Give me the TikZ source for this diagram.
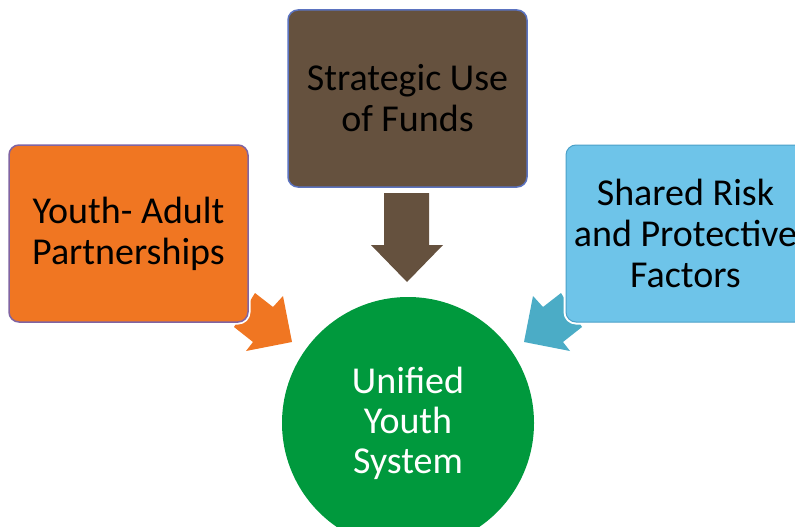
\documentclass[tikz,border=0pt]{standalone}
\usepackage{fontspec}
\setmainfont{Carlito}
\definecolor{orangefill}{RGB}{240,118,34}
\definecolor{brownfill}{RGB}{101,81,62}
\definecolor{bluefill}{RGB}{110,196,233}
\definecolor{bluearrow}{RGB}{75,172,198}
\definecolor{greenfill}{RGB}{0,153,61}
\definecolor{purpleline}{RGB}{128,100,162}
\definecolor{blueline}{RGB}{91,115,192}
\definecolor{cyanline}{RGB}{75,160,200}
\begin{document}
\begin{tikzpicture}[x=1pt,y=-1pt,
  boxstyle/.style={rounded corners=10pt, minimum width=239pt, minimum height=177pt,
    inner sep=0pt, align=center, font=\fontsize{38}{41}\selectfont, text=black},
  halo/.style={draw=white, line width=5pt, rounded corners=10pt},
  ]
\useasboundingbox (0,0) rectangle (795,527);
% circle
\node[circle, fill=greenfill, minimum size=252pt, inner sep=0pt, align=center,
  text=white, font=\fontsize{38}{40}\selectfont] (unified) at (408,423)
  {Unified\\Youth\\System};
% arrows
\coordinate (la1) at (255,293);
\coordinate (la2) at (273,307);
\coordinate (la3) at (283,296);
\coordinate (lat) at (292,342);
\coordinate (la5) at (246,351);
\coordinate (la6) at (253,342);
\coordinate (la7) at (234,327);
\fill[orangefill] (la1) -- (la2) -- (la3) -- (lat) -- (la5) -- (la6) -- (la7) -- cycle;
\coordinate (ra1) at (561,293);
\coordinate (ra2) at (543,307);
\coordinate (ra3) at (533,296);
\coordinate (rat) at (524,342);
\coordinate (ra5) at (570,351);
\coordinate (ra6) at (563,342);
\coordinate (ra7) at (582,327);
\fill[bluearrow] (ra1) -- (ra2) -- (ra3) -- (rat) -- (ra5) -- (ra6) -- (ra7) -- cycle;
\coordinate (da1) at (384,193);
\coordinate (da2) at (384,245);
\coordinate (da3) at (371,245);
\coordinate (dat) at (407,282);
\coordinate (da5) at (443,245);
\coordinate (da6) at (429,245);
\coordinate (da7) at (429,193);
\fill[brownfill] (da1) -- (da2) -- (da3) -- (dat) -- (da5) -- (da6) -- (da7) -- cycle;
% boxes
\node[boxstyle, halo] at (128.5,233.5) {};
\node[boxstyle, fill=orangefill, draw=purpleline, line width=1.5pt] (youth) at (128.5,233.5)
  {Youth- Adult\\Partnerships};
\node[boxstyle, halo] at (407.5,98.5) {};
\node[boxstyle, fill=brownfill, draw=blueline, line width=1.5pt] (funds) at (407.5,98.5)
  {Strategic Use\\of Funds};
\node[boxstyle, halo] at (685.5,233.5) {};
\node[boxstyle, fill=bluefill, draw=cyanline, line width=1pt] (risk) at (685.5,233.5)
  {Shared Risk\\and Protective\\Factors};
\end{tikzpicture}
\end{document}
